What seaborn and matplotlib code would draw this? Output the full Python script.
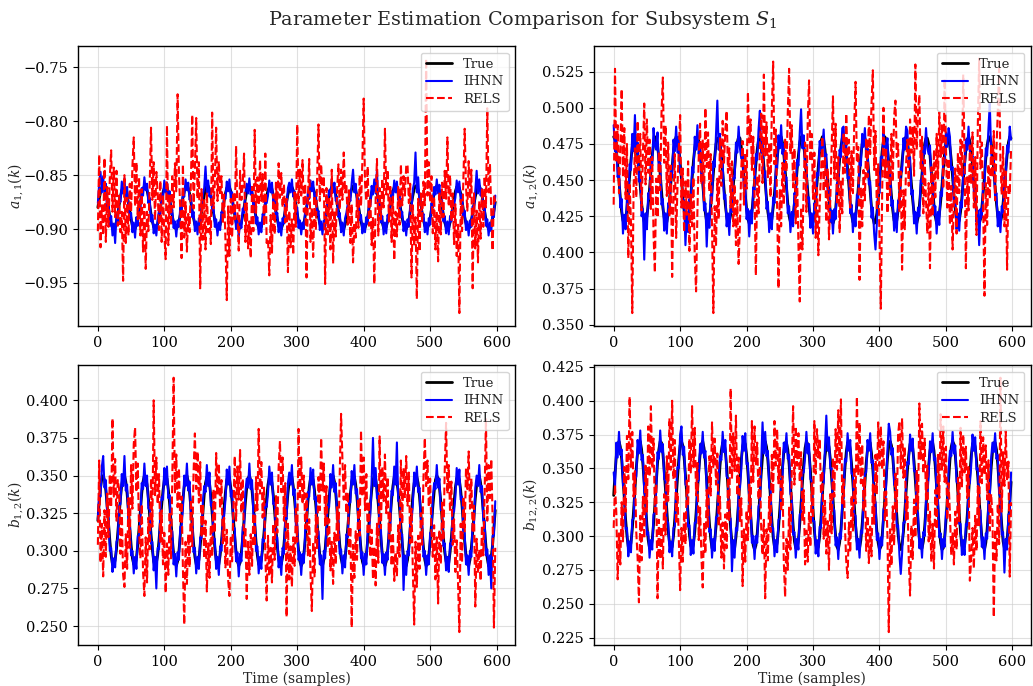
import numpy as np
import pandas as pd
import matplotlib
matplotlib.use("Agg")
import matplotlib.pyplot as plt
import seaborn as sns

# ---------------- data (values in thousandths, sampled every 2 samples) ----------------
sample_step = 2
series_names = ["True", "IHNN", "RELS"]
ylabels = [r"$a_{1,1}(k)$", r"$a_{1,2}(k)$", r"$b_{1,2}(k)$", r"$b_{12,2}(k)$"]
xticks = [0, 100, 200, 300, 400, 500, 600]

true_a11 = [
-880,-872,-866,-861,-860,-862,-866,-873,-881,-889,-895,-899,-900,-898,-893,-886,
-878,-870,-864,-861,-860,-863,-868,-876,-883,-891,-897,-900,-900,-896,-891,-883,
-875,-868,-863,-860,-861,-864,-870,-878,-886,-893,-898,-900,-899,-895,-889,-881,
-873,-866,-862,-860,-861,-866,-872,-880,-888,-894,-899,-900,-898,-893,-887,-879,
-871,-865,-861,-860,-862,-867,-875,-883,-890,-896,-899,-900,-897,-892,-884,-876,
-869,-863,-860,-860,-864,-869,-877,-885,-892,-897,-900,-899,-896,-890,-882,-874,
-867,-862,-860,-861,-865,-871,-879,-887,-894,-898,-900,-899,-894,-887,-880,-872,
-865,-861,-860,-862,-867,-874,-882,-889,-895,-899,-900,-898,-892,-885,-877,-870,
-864,-861,-860,-863,-869,-876,-884,-891,-897,-900,-900,-896,-890,-883,-875,-868,
-863,-860,-861,-864,-871,-878,-886,-893,-898,-900,-899,-895,-888,
-880,-872,-866,-861,-860,-862,-866,-873,-881,-889,-895,-899,-900,-898,-893,-886,
-878,-870,-864,-861,-860,-863,-868,-876,-883,-891,-897,-900,-900,-896,-891,-883,
-875,-868,-863,-860,-861,-864,-870,-878,-886,-893,-898,-900,-899,-895,-889,-881,
-873,-866,-862,-860,-861,-866,-872,-880,-888,-894,-899,-900,-898,-893,-887,-879,
-871,-865,-861,-860,-862,-867,-875,-883,-890,-896,-899,-900,-897,-892,-884,-876,
-869,-863,-860,-860,-864,-869,-877,-885,-892,-897,-900,-899,-896,-890,-882,-874,
-867,-862,-860,-861,-865,-871,-879,-887,-894,-898,-900,-899,-894,-887,-880,-872,
-865,-861,-860,-862,-867,-874,-882,-889,-895,-899,-900,-898,-892,-885,-877,-870,
-864,-861,-860,-863,-869,-876,-884,-891,-897,-900,-900,-896,-890,-883,-875]

ihnn_a11 = [
-876,-858,-847,-866,-851,-869,-858,-884,-872,-897,-888,-906,-895,-913,-887,-894,
-871,-875,-856,-867,-853,-870,-861,-879,-890,-885,-903,-894,-908,-889,-897,-876,
-880,-862,-869,-852,-864,-858,-876,-871,-893,-887,-904,-896,-906,-891,-883,-886,
-868,-871,-855,-866,-857,-872,-865,-886,-882,-899,-893,-907,-892,-898,-880,-884,
-865,-870,-854,-864,-857,-873,-869,-889,-884,-902,-893,-905,-890,-896,-878,-868,
-862,-842,-866,-855,-870,-863,-883,-879,-898,-891,-906,-894,-901,-884,-887,-869,
-872,-856,-865,-854,-871,-866,-885,-881,-900,-892,-907,-893,-899,-881,-885,-866,
-858,-867,-853,-868,-861,-880,-876,-895,-889,-905,-894,-903,-886,-890,-871,-876,
-869,-855,-866,-857,-875,-870,-890,-885,-903,-894,-906,-890,-895,-877,-880,-862,
-857,-866,-854,-870,-865,-884,-880,-899,-892,-905,-894,-900,-882,
-884,-866,-872,-855,-865,-856,-872,-867,-887,-883,-901,-893,-905,-892,-898,-880,
-873,-864,-869,-854,-866,-857,-874,-870,-889,-885,-903,-894,-906,-890,-885,-877,
-869,-874,-857,-845,-866,-858,-876,-872,-892,-887,-904,-895,-903,-889,-895,-875,
-878,-860,-868,-854,-867,-845,-878,-874,-894,-888,-905,-894,-904,-887,-893,-873,
-865,-871,-855,-866,-856,-873,-869,-889,-884,-902,-893,-906,-891,-898,-878,-882,
-863,-857,-829,-866,-852,-875,-871,-891,-886,-903,-894,-905,-890,-896,-876,-880,
-861,-868,-854,-867,-859,-877,-873,-893,-888,-904,-893,-905,-888,-893,-874,-878,
-871,-855,-866,-856,-873,-868,-888,-883,-901,-893,-906,-892,-898,-879,-883,-864,
-846,-867,-854,-869,-863,-882,-878,-897,-891,-906,-894,-902,-884,-889,-869]

rels_a11 = [
-902,-831,-917,-878,-906,-834,-912,-861,-898,-852,-827,-884,-843,-889,-846,-897,
-869,-903,-884,-948,-850,-913,-871,-906,-858,-884,-842,-815,-879,-838,-891,-852,
-906,-863,-921,-877,-937,-884,-902,-859,-806,-873,-838,-892,-847,-866,-901,-855,
-912,-868,-904,-928,-804,-915,-869,-897,-851,-880,-839,-865,-775,-848,-882,-927,
-840,-908,-875,-921,-886,-903,-857,-794,-881,-846,-797,-872,-838,-955,-863,-910,
-872,-919,-866,-903,-887,-914,-792,-881,-858,-806,-874,-837,-869,-851,-895,-868,
-911,-966,-879,-925,-872,-908,-866,-891,-823,-884,-920,-846,-873,-858,-830,-912,
-876,-918,-893,-927,-861,-902,-808,-885,-852,-878,-836,-874,-849,-897,-830,-913,
-909,-943,-887,-922,-868,-905,-857,-882,-839,-871,-848,-880,-858,-894,-872,-940,
-883,-917,-891,-924,-866,-898,-803,-876,-845,-869,-836,-884,-858,
-945,-871,-835,-912,-880,-926,-869,-901,-852,-803,-874,-840,-866,-851,-951,-862,
-905,-872,-919,-845,-932,-883,-907,-864,-840,-882,-845,-873,-829,-866,-858,-896,
-864,-913,-877,-931,-894,-908,-868,-899,-850,-879,-838,-779,-857,-874,-842,-897,
-871,-915,-889,-951,-873,-835,-906,-862,-891,-853,-880,-807,-868,-845,-893,-859,
-912,-870,-929,-884,-907,-861,-896,-840,-878,-851,-869,-842,-840,-876,-858,-945,
-878,-916,-889,-965,-872,-921,-867,-894,-856,-878,-742,-869,-838,-875,-851,-904,
-870,-919,-884,-930,-866,-905,-857,-889,-846,-872,-815,-879,-850,-893,-867,-914,
-877,-925,-896,-978,-873,-902,-855,-807,-861,-883,-837,-872,-845,-955,-866,-918,
-883,-931,-874,-909,-862,-898,-851,-880,-788,-866,-839,-884,-920,-868,-875]

true_a12 = [
480,478,471,461,449,438,428,422,420,423,430,441,453,464,473,479,
480,476,468,458,446,434,426,421,420,425,433,444,456,467,475,480,
479,474,465,454,442,431,424,420,421,427,436,448,459,470,477,480,
478,472,462,451,439,429,422,420,422,429,439,451,463,472,478,480,
477,469,459,447,436,427,421,420,424,432,443,455,466,475,479,479,
475,467,456,444,433,425,420,421,426,435,446,458,469,476,480,479,
473,464,452,440,430,423,420,422,428,438,450,461,471,478,480,477,
471,460,449,437,428,422,420,423,431,441,453,465,474,479,480,476,
468,457,445,434,425,421,421,425,434,445,457,467,476,480,479,474,
465,454,442,431,424,420,421,427,437,448,460,470,477,
480,478,471,461,449,438,428,422,420,423,430,441,453,464,473,479,
480,476,468,458,446,434,426,421,420,425,433,444,456,467,475,480,
479,474,465,454,442,431,424,420,421,427,436,448,459,470,477,480,
478,472,462,451,439,429,422,420,422,429,439,451,463,472,478,480,
477,469,459,447,436,427,421,420,424,432,443,455,466,475,479,479,
475,467,456,444,433,425,420,421,426,435,446,458,469,476,480,479,
473,464,452,440,430,423,420,422,428,438,450,461,471,478,480,477,
471,460,449,437,428,422,420,423,431,441,453,465,474,479,480,476,
468,457,445,434,425,421,421,425,434,445,457,467,476,480,479]

ihnn_a12 = [
488,470,478,452,458,431,437,413,426,416,438,433,461,457,482,470,
495,469,476,449,454,425,430,395,427,416,441,437,466,460,486,474,
471,483,457,462,433,437,415,427,413,434,429,456,452,478,470,487,
469,480,455,458,431,436,405,428,414,437,432,459,455,480,471,488,
468,476,452,455,429,434,404,427,417,440,436,463,459,483,505,471,
482,460,463,437,440,418,427,412,433,428,453,451,476,469,487,472,
465,471,444,447,423,430,411,429,420,445,443,468,464,485,498,469,
478,452,456,430,435,414,427,416,438,434,460,458,481,472,488,468,
475,450,452,427,432,414,428,418,441,438,464,460,483,499,472,481,
458,461,435,438,417,427,413,434,430,455,453,477,470,
473,485,464,468,442,445,421,429,413,430,423,448,446,471,466,486,
487,469,475,451,453,427,433,414,427,418,440,437,463,460,482,473,
486,467,472,447,449,424,431,413,402,420,443,441,466,463,484,473,
471,479,455,458,432,436,415,427,414,436,432,458,456,479,471,487,
484,462,466,440,443,420,428,413,431,425,450,448,473,468,486,472,
468,474,449,451,426,432,413,428,419,442,439,465,462,483,473,486,
480,457,459,433,437,416,427,415,435,431,457,454,478,471,487,470,
464,467,442,444,421,429,405,430,424,448,446,472,467,486,503,469,
461,464,438,441,418,428,414,432,427,452,450,474,469,487,478]

rels_a12 = [
433,527,462,488,441,470,513,452,486,437,475,396,448,421,358,445,
472,438,491,457,482,429,468,503,447,492,455,478,430,466,412,386,
451,424,470,443,497,521,462,488,439,476,425,460,383,437,468,410,
445,472,495,431,458,414,449,426,463,401,440,418,452,397,373,428,
466,489,447,478,436,500,459,483,442,468,417,358,432,404,451,423,
479,446,491,462,484,498,455,472,431,463,418,447,405,436,392,420,
458,477,433,469,444,511,476,492,457,480,439,384,453,427,471,496,
448,523,467,490,452,476,438,499,532,461,485,430,375,444,418,462,
433,479,456,497,527,468,488,445,472,420,453,406,366,431,402,449,
476,428,491,519,463,482,437,469,410,446,398,433,455,
480,442,466,421,458,409,437,473,508,451,489,433,466,414,449,427,
483,455,496,462,478,431,470,441,489,518,462,473,381,445,418,457,
436,479,452,495,468,503,526,457,484,429,461,413,361,440,500,452,
471,427,463,438,482,449,494,505,466,475,428,456,388,443,416,461,
478,446,492,469,487,453,530,471,497,509,458,480,427,464,436,413,
448,389,459,425,471,438,482,451,497,466,488,444,520,473,431,465,
419,446,402,437,458,413,469,441,478,453,523,467,389,452,429,474,
447,483,431,466,412,489,534,458,476,432,370,448,419,461,437,475,
452,484,436,471,497,527,462,440,473,418,456,388,447,440,472]

true_b12 = [
320,332,342,348,350,347,340,330,318,307,297,291,290,294,301,312,
324,335,344,349,350,346,338,327,315,304,295,291,291,295,304,315,
327,338,346,350,349,344,335,323,311,301,293,290,292,297,307,319,
330,340,347,350,348,341,331,320,308,298,292,290,293,300,310,322,
334,343,349,350,346,339,328,316,305,296,291,290,294,303,314,325,
337,345,349,349,345,336,325,313,302,294,290,291,297,306,317,329,
339,347,350,348,342,333,321,309,299,293,290,292,299,309,321,332,
342,348,350,347,340,330,318,306,297,291,290,294,302,312,324,335,
344,349,350,345,337,326,314,303,295,290,291,296,304,316,327,338,
346,350,349,343,334,323,311,300,293,290,292,298,307,
320,332,342,348,350,347,340,330,318,307,297,291,290,294,301,312,
324,335,344,349,350,346,338,327,315,304,295,291,291,295,304,315,
327,338,346,350,349,344,335,323,311,301,293,290,292,297,307,319,
330,340,347,350,348,341,331,320,308,298,292,290,293,300,310,322,
334,343,349,350,346,339,328,316,305,296,291,290,294,303,314,325,
337,345,349,349,345,336,325,313,302,294,290,291,297,306,317,329,
339,347,350,348,342,333,321,309,299,293,290,292,299,309,321,332,
342,348,350,347,340,330,318,306,297,291,290,294,302,312,324,335,
344,349,350,345,337,326,314,303,295,290,291,296,304,316,327]

ihnn_b12 = [
321,338,336,356,363,342,347,324,322,300,302,286,295,289,306,308,
330,331,351,343,363,340,344,320,320,297,300,285,296,288,310,310,
322,345,341,358,343,350,328,329,305,306,287,296,275,302,301,326,
336,334,355,344,356,335,337,314,313,291,298,283,299,294,316,317,
328,350,343,358,340,346,322,322,299,302,285,296,288,309,308,332,
343,339,357,343,352,330,332,307,308,288,296,284,303,300,323,323,
334,354,344,356,336,340,315,315,293,299,283,298,293,316,315,339,
348,342,358,341,347,324,324,300,303,285,296,288,308,306,331,329,
338,356,344,352,331,332,308,309,289,296,284,302,298,323,321,345,
352,344,357,337,341,317,318,294,299,284,298,292,314,
314,339,336,355,344,354,334,336,312,313,291,297,268,300,295,318,
330,329,351,342,357,339,345,321,321,298,301,285,297,289,311,309,
333,332,353,344,357,338,341,317,317,295,299,284,298,291,313,313,
324,347,375,343,355,335,338,314,314,292,298,284,299,294,316,316,
340,337,356,344,372,333,334,310,311,274,297,284,300,297,320,319,
331,352,343,356,339,342,319,319,296,300,284,297,291,312,311,335,
345,341,357,342,348,327,327,303,305,287,296,286,305,303,327,326,
336,355,344,354,334,336,312,312,291,297,284,300,296,318,318,342,
350,343,357,339,343,320,320,297,301,284,297,275,310,310,333]

rels_b12 = [
304,360,292,318,283,327,296,338,309,351,329,388,336,361,320,347,
341,298,327,284,276,311,288,335,302,357,328,371,382,339,358,314,
295,331,286,270,309,279,322,301,348,316,400,337,362,331,351,306,
327,291,312,272,305,284,326,295,347,415,338,364,329,355,318,336,
288,251,306,278,311,289,334,303,352,378,341,366,332,359,309,331,
295,320,273,305,282,317,296,341,312,365,337,358,328,347,305,322,
289,314,281,270,310,293,328,363,320,356,334,367,325,348,303,316,
268,306,284,311,290,325,303,349,327,381,338,359,322,342,298,267,
310,283,302,279,318,294,337,312,355,373,339,362,320,345,256,318,
281,303,276,309,290,328,306,381,334,362,331,350,315,
338,297,321,285,260,306,283,324,301,349,327,375,340,358,317,343,
302,321,287,306,278,312,291,329,307,352,391,361,334,357,325,339,
298,316,249,304,282,313,294,335,310,380,336,362,327,351,311,333,
296,314,281,303,277,318,292,376,315,356,333,364,325,349,308,326,
290,312,280,299,283,317,296,360,318,355,335,363,330,352,305,328,
287,251,306,276,310,288,325,304,349,375,343,360,329,348,313,296,
317,281,309,265,314,291,332,307,354,385,338,357,326,346,304,321,
286,307,279,246,318,292,336,313,355,341,366,328,348,312,330,263,
308,285,301,280,317,297,338,388,320,357,335,361,322,249,302]

true_b122 = [
330,346,359,367,370,366,357,343,328,312,300,292,290,295,305,319,
335,350,362,369,370,364,353,339,323,308,297,291,291,297,309,323,
339,354,364,370,369,361,349,334,318,304,295,290,292,300,313,328,
344,357,367,370,367,358,345,330,314,301,293,290,294,303,317,333,
348,360,368,370,365,355,341,325,310,298,291,291,296,307,321,337,
352,363,369,369,363,351,336,320,306,295,290,291,299,311,326,342,
356,366,370,368,360,347,332,316,302,293,290,293,302,315,331,346,
359,368,370,366,356,343,327,312,299,292,290,295,305,320,335,350,
362,369,369,364,353,338,322,308,296,291,291,297,309,324,340,354,
365,370,368,361,349,334,318,304,294,290,292,300,313,
330,346,359,367,370,366,357,343,328,312,300,292,290,295,305,319,
335,350,362,369,370,364,353,339,323,308,297,291,291,297,309,323,
339,354,364,370,369,361,349,334,318,304,295,290,292,300,313,328,
344,357,367,370,367,358,345,330,314,301,293,290,294,303,317,333,
348,360,368,370,365,355,341,325,310,298,291,291,296,307,321,337,
352,363,369,369,363,351,336,320,306,295,290,291,299,311,326,342,
356,366,370,368,360,347,332,316,302,293,290,293,302,315,331,346,
359,368,370,366,356,343,327,312,299,292,290,295,305,320,335,350,
362,369,369,364,353,338,322,308,296,291,291,297,309,324,340]

ihnn_b122 = [
347,336,369,358,377,360,364,337,334,305,306,285,296,288,312,313,
341,344,371,361,378,356,360,332,329,301,303,284,297,290,316,317,
333,362,357,378,362,368,342,341,311,310,288,296,285,306,307,335,
351,350,375,381,360,366,338,337,307,308,286,297,287,310,310,341,
341,368,361,377,358,363,334,332,303,305,284,298,289,314,314,344,
359,356,377,362,371,344,343,313,313,274,297,284,306,304,333,335,
349,374,363,376,353,354,325,323,295,300,283,300,295,322,324,353,
384,361,377,359,363,336,334,305,306,285,297,288,312,313,342,343,
369,362,376,357,360,331,329,301,303,284,298,290,316,317,347,347,
358,377,361,368,342,341,311,311,287,297,285,307,306,
337,339,366,389,363,373,350,350,321,319,293,299,283,302,298,326,
328,357,355,376,363,371,346,346,316,315,290,298,284,304,302,330,
346,347,371,363,376,354,356,327,325,297,302,283,299,293,320,321,
337,364,383,377,360,365,338,337,307,308,286,272,287,310,310,340,
355,353,375,363,372,348,348,318,317,291,298,284,303,300,328,330,
345,370,362,376,356,358,329,327,299,302,283,298,292,318,319,349,
363,359,377,361,367,340,339,309,309,286,297,286,309,308,338,339,
352,375,363,373,349,350,320,319,292,299,283,302,298,327,328,357,
369,362,376,357,360,331,329,301,303,273,298,290,316,317,347]

rels_b122 = [
306,338,317,268,302,279,325,296,351,318,374,342,403,351,377,329,
348,303,284,251,315,282,329,298,352,318,381,344,396,350,372,318,
339,254,312,283,307,276,331,301,359,326,387,349,400,342,371,309,
332,298,260,306,281,318,294,341,322,372,347,396,351,380,330,354,
297,321,285,262,309,287,334,306,359,330,384,351,372,338,361,307,
329,284,310,276,316,291,343,311,409,342,376,348,389,330,358,311,
328,263,305,281,319,297,338,312,385,340,381,353,369,327,352,306,
286,312,254,305,282,329,303,360,331,385,352,379,339,366,318,344,
281,255,298,275,321,290,347,396,338,381,352,376,340,362,311,334,
279,304,281,318,292,339,313,385,346,379,358,372,331,
348,298,326,287,311,275,331,302,358,329,379,349,393,354,401,323,
342,307,281,269,310,288,330,304,351,324,403,345,384,339,368,318,
343,289,315,280,307,285,338,309,360,331,384,352,381,349,370,311,
333,300,229,305,278,322,293,346,318,375,385,350,387,343,366,312,
329,284,256,308,283,327,299,349,320,398,357,383,346,372,327,352,
296,318,281,309,276,334,305,360,328,390,349,381,340,366,312,339,
317,286,302,279,318,290,343,311,380,336,375,347,366,328,351,267,
283,306,276,315,289,337,308,385,339,373,345,367,327,356,304,331,
316,240,305,282,324,294,417,318,362,337,378,342,355,270,325]

panels = [
    (true_a11, ihnn_a11, rels_a11),
    (true_a12, ihnn_a12, rels_a12),
    (true_b12, ihnn_b12, rels_b12),
    (true_b122, ihnn_b122, rels_b122),
]

# ---------------- style ----------------
sns.set_style("ticks")
plt.rcParams["font.family"] = ["DejaVu Serif"]
plt.rcParams["mathtext.fontset"] = "dejavuserif"
plt.rcParams["axes.edgecolor"] = "black"
plt.rcParams["axes.linewidth"] = 1.0
plt.rcParams["xtick.color"] = "black"
plt.rcParams["ytick.color"] = "black"

line_styles = {
    "True": dict(color="black", lw=2.0, ls="-"),
    "IHNN": dict(color="blue", lw=1.5, ls="-"),
    "RELS": dict(color="red", lw=1.5, ls="--"),
}

fig, axes = plt.subplots(2, 2, figsize=(10.33, 6.86), dpi=100)
fig.subplots_adjust(left=0.0755, right=0.998, top=0.933, bottom=0.06,
                    wspace=0.18, hspace=0.14)

for i, (ax, series) in enumerate(zip(axes.flat, panels)):
    frames = []
    for name, vals in zip(series_names, series):
        v = np.asarray(vals, dtype=float) / 1000.0
        frames.append(pd.DataFrame({"k": np.arange(len(v)) * sample_step,
                                    "value": v, "series": name}))
    df = pd.concat(frames, ignore_index=True)
    for name in series_names:
        sub = df[df["series"] == name]
        st = line_styles[name]
        sns.lineplot(data=sub, x="k", y="value", ax=ax, estimator=None,
                     color=st["color"], linewidth=st["lw"], linestyle=st["ls"],
                     label=name)
    ax.set_xticks(xticks)
    ax.grid(True, color="#cccccc", alpha=0.6, linewidth=0.8)
    ax.set_ylabel(ylabels[i], fontsize=10)
    ax.yaxis.set_label_coords(-0.12, 0.5)
    ax.tick_params(labelsize=10.5, length=3.5, width=0.8)
    if i >= 2:
        ax.set_xlabel("Time (samples)", fontsize=10, labelpad=2)
    else:
        ax.set_xlabel("")
    ax.legend(loc="upper right", fontsize=9.5, framealpha=0.8,
              handlelength=2.0, borderpad=0.4, labelspacing=0.35)

fig.suptitle(r"Parameter Estimation Comparison for Subsystem $S_1$",
             fontsize=13.8, x=0.506, y=0.971, va="center")

fig.savefig("out.png", dpi=100)
